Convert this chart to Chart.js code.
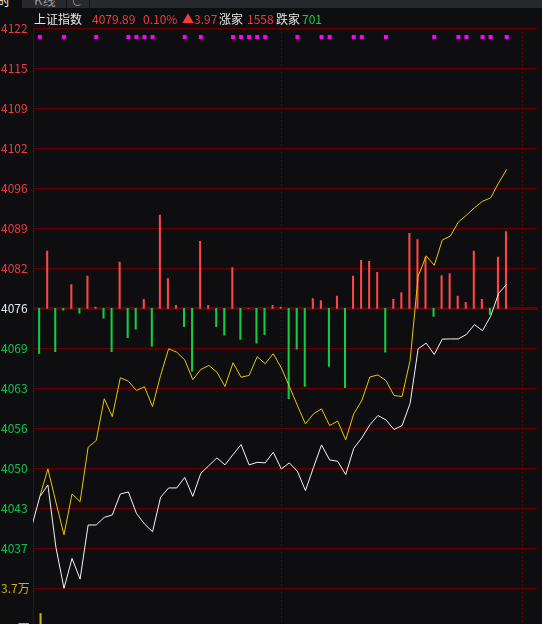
<!DOCTYPE html>
<html>
<head>
<meta charset="utf-8">
<script src="https://cdn.jsdelivr.net/npm/chart.js@4.4.1/dist/chart.umd.min.js"></script>
<style>
  body { margin: 0; width: 542px; height: 624px; overflow: hidden; position: relative;
         background: #0e0e11; font-family: "Noto Sans CJK SC", sans-serif; }
  #chart { position: absolute; left: 0; top: 0; }
  .tabs { position: absolute; left: 0; top: 0; width: 542px; height: 8px; overflow: hidden; background: #28292c; z-index: 2; }
  .tabs div { position: absolute; top: 0; height: 8px; overflow: hidden; }
  .head span { position: absolute; top: 12px; font-size: 12px; line-height: 14px; white-space: nowrap; z-index: 2; }
  .w { color: #e6e6e6; }
  .r { color: #f03c3c; }
  .g { color: #1ec84a; }
</style>
</head>
<body>
<canvas id="chart" width="542" height="753"></canvas>

<div class="tabs">
  <div style="left:0;width:22px;background:#0e0e11;"><span style="position:absolute;left:-14px;top:-6px;font-size:12px;line-height:14px;color:#f0f0f0;">分时</span></div>
  <div style="left:66px;width:1px;background:#141416;"></div>
  <div style="left:34px;width:30px;"><span style="position:absolute;left:0;top:-7px;font-size:13px;line-height:14px;color:#9a9a9a;">K线</span></div>
  <div style="left:89px;width:1px;background:#141416;"></div>
  <div style="left:72px;width:12px;"><span style="position:absolute;left:1px;top:-3px;width:7px;height:7px;border:1.5px solid #8a8a8a;border-right-color:transparent;border-radius:50%;"></span></div>
</div>

<div class="head">
  <span class="w" style="left:34px">上证指数</span>
  <span class="r" style="left:92px">4079.89</span>
  <span class="r" style="left:143px">0.10%</span>
  <span class="r" style="left:182px">▲3.97</span>
  <span class="w" style="left:219px">涨家</span>
  <span class="r" style="left:247px">1558</span>
  <span class="w" style="left:276px">跌家</span>
  <span class="g" style="left:302px">701</span>
</div>

<script>
"use strict";

const PRE_CLOSE = 4075.92;
const GRID_STEP = 6.57;

// y labels, top to bottom
const priceTickLabels = ["4122", "4115", "4109", "4102", "4096", "4089", "4082",
  "4076", "4069", "4063", "4056", "4050", "4043", "4037"];
const volTickValues = [27750, 37000];
const volTickLabels = ["2.8万", "3.7万"];

// white line, first point is the 09:30 open
const indexLine = [4040.20, 4045.04, 4046.96, 4036.71, 4030.01, 4034.91, 4031.52, 4040.39, 4040.39, 4041.64,
  4042.04, 4045.48, 4045.81, 4042.30, 4040.56, 4039.29, 4044.93, 4046.47, 4046.47, 4048.21,
  4045.09, 4048.87, 4050.13, 4051.40, 4050.25, 4051.94, 4053.58, 4050.25, 4050.67, 4050.58,
  4052.32, 4049.59, 4050.58, 4049.20, 4046.03, 4049.85, 4053.53, 4051.07, 4050.84, 4048.65,
  4052.97, 4054.68, 4056.82, 4058.35, 4057.64, 4056.05, 4056.70, 4060.32, 4069.30, 4070.22,
  4068.36, 4070.88, 4070.91, 4070.91, 4071.65, 4073.26, 4072.27, 4074.61, 4078.38, 4079.89];

// yellow line (unweighted index), from 09:31
const leadLine = [4045.09, 4049.59, 4044.10, 4038.80, 4045.48, 4044.22, 4053.14, 4054.24, 4061.09, 4058.18,
  4064.54, 4063.98, 4062.45, 4063.06, 4059.82, 4064.92, 4069.30, 4068.74, 4067.49, 4064.23,
  4065.90, 4066.56, 4065.46, 4063.11, 4067.00, 4064.64, 4064.92, 4067.99, 4066.84, 4068.48,
  4066.15, 4063.11, 4059.99, 4056.98, 4058.62, 4059.45, 4056.70, 4057.44, 4054.35, 4058.62,
  4060.81, 4064.67, 4065.00, 4064.09, 4061.63, 4061.47, 4067.38, 4081.18, 4084.54, 4082.98,
  4087.14, 4087.78, 4090.09, 4091.20, 4092.43, 4093.49, 4094.04, 4096.50, 4098.70];

// red/green bars around the previous close, in index points
const powerBars = [-7.4, 9.4, -7.1, -0.3, 3.9, -0.8, 5.3, 0.2, -1.6, -7.1,
  7.6, -4.8, -3.4, 1.5, -6.2, 15.3, 4.9, 0.5, -3.0, -10.3,
  11.0, 0.5, -3.0, -4.4, 6.7, -5.1, 0, -5.7, -4.3, 0.5,
  0.2, -14.8, -6.7, -12.8, 1.6, 1.3, -9.5, 2.0, -13.0, 5.3,
  7.9, 7.7, 5.9, -7.2, 1.5, 2.6, 12.3, 11.3, 8.4, -1.3,
  5.4, 5.7, 2.0, 1.0, 9.4, 1.5, -1.0, 8.4, 12.6];

// minutes with a magenta signal at the top
const signalMinutes = [0, 3, 7, 11, 12, 13, 14, 18, 20, 24, 25, 26, 27, 28, 32, 35, 36,
  39, 40, 43, 49, 52, 53, 55, 56, 58];

// only the first volume bar shows above the bottom edge
const volumes = [31300];

const GRID = "#680000";
const priceMax = PRE_CLOSE + 7 * GRID_STEP;
const priceMin = PRE_CLOSE - 7 * GRID_STEP;
const font = { family: "Noto Sans CJK SC", size: 12 };

// fixed axis box: 32px wide, no label overflow padding
const fixAxis = (s) => {
  s.width = 32;
  s.paddingTop = 0;
  s.paddingBottom = 0;
};

const ctx = document.getElementById("chart").getContext("2d");
new Chart(ctx, {
  type: "line",
  data: {
    datasets: [
      {
        data: indexLine.map((y, i) => ({ x: i - 1, y })),
        borderColor: "#f4f4f4",
        borderWidth: 1,
        pointRadius: 0,
        yAxisID: "y",
      },
      {
        data: leadLine.map((y, i) => ({ x: i, y })),
        borderColor: "#e8c800",
        borderWidth: 1,
        pointRadius: 0,
        yAxisID: "y",
      },
      {
        type: "scatter",
        data: signalMinutes.map((x) => ({ x, y: priceMax - 1.48 })),
        backgroundColor: "#ff00ff",
        borderWidth: 0,
        pointStyle: "rect",
        pointRadius: 2.8,
        yAxisID: "y",
      },
      {
        type: "bar",
        data: powerBars.map((v, i) => ({ x: i, y: [PRE_CLOSE, PRE_CLOSE + v] })),
        backgroundColor: powerBars.map((v) => (v >= 0 ? "#ff4646" : "#12cc44")),
        barThickness: 1.4,
        yAxisID: "y",
      },
      {
        type: "bar",
        data: volumes.map((y, i) => ({ x: i, y })),
        backgroundColor: "#c8b800",
        barThickness: 1.4,
        yAxisID: "v",
      },
    ],
  },
  options: {
    responsive: false,
    animation: false,
    layout: { padding: { top: 28, left: 1, right: 0, bottom: 0 } },
    plugins: { legend: { display: false }, tooltip: { enabled: false } },
    scales: {
      x: {
        type: "linear",
        min: -0.85,
        max: 61.89,
        offset: false,
        afterBuildTicks: (s) => {
          s.ticks = [{ value: 30 }, { value: 60 }];
        },
        afterFit: (s) => {
          s.height = 0;
        },
        ticks: { display: false },
        grid: { color: GRID, drawTicks: false, offset: false },
        border: { display: false, dash: [2, 2] },
      },
      y: {
        stack: "pane",
        stackWeight: 7,
        weight: 1,
        min: priceMin,
        max: priceMax,
        afterBuildTicks: (s) => {
          s.ticks = [];
          for (let i = -7; i <= 7; i++) s.ticks.push({ value: PRE_CLOSE + i * GRID_STEP });
        },
        afterFit: fixAxis,
        ticks: {
          autoSkip: false,
          crossAlign: "far",
          padding: 0,
          font,
          callback: (v, i) => (i === 0 ? "" : priceTickLabels[14 - i]),
          color: (c) => {
            const d = c.tick.value - PRE_CLOSE;
            if (Math.abs(d) < 0.01) return "#e4eaf2";
            return d > 0 ? "#f03c3c" : "#14c44a";
          },
        },
        grid: {
          color: GRID,
          drawTicks: false,
          lineWidth: (c) => (c.tick && Math.abs(c.tick.value - PRE_CLOSE) < 0.01 ? 3 : 1),
        },
        border: { color: GRID },
      },
      v: {
        stack: "pane",
        stackWeight: 2,
        weight: 0,
        min: 0,
        max: 37000,
        afterBuildTicks: (s) => {
          s.ticks = volTickValues.map((value) => ({ value }));
        },
        afterFit: fixAxis,
        ticks: {
          autoSkip: false,
          crossAlign: "far",
          padding: 0,
          font,
          color: "#c8b400",
          callback: (v, i) => volTickLabels[i],
        },
        grid: { display: false },
        border: { color: GRID },
      },
    },
  },
});
</script>
</body>
</html>
